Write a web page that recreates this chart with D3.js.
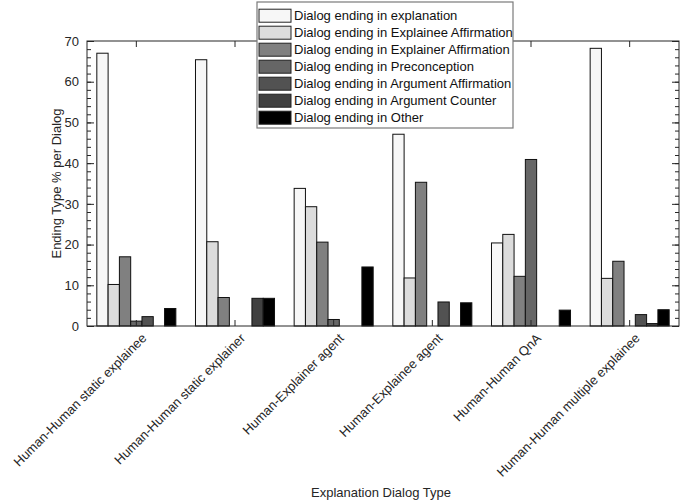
<!DOCTYPE html>
<html>
<head>
<meta charset="utf-8">
<script src="https://cdn.jsdelivr.net/npm/d3@7"></script>
<style>
  body { margin: 0; background: #fff; }
  svg { display: block; font-family: "Liberation Sans", Arial, Helvetica, sans-serif; }
</style>
</head>
<body>
<div id="chart"></div>
<script>
const categories = [
  "Human-Human static explainee",
  "Human-Human static explainer",
  "Human-Explainer agent",
  "Human-Explainee agent",
  "Human-Human QnA",
  "Human-Human multiple explainee",
];

const seriesNames = [
  "Dialog ending in explanation",
  "Dialog ending in Explainee Affirmation",
  "Dialog ending in Explainer Affirmation",
  "Dialog ending in Preconception",
  "Dialog ending in Argument Affirmation",
  "Dialog ending in Argument Counter",
  "Dialog ending in Other",
];

const explanation   = [67.0, 65.4, 33.8, 47.1, 20.4, 68.2];
const explaineeAff  = [10.2, 20.7, 29.3, 11.8, 22.5, 11.7];
const explainerAff  = [17.0, 7.0, 20.6, 35.3, 12.2, 15.9];
const preconception = [1.2, 0, 1.6, 0, 40.9, 0];
const argAff        = [2.3, 0, 0, 5.9, 0, 2.8];
const argCounter    = [0, 6.8, 0, 0, 0, 0.6];
const other         = [4.3, 6.8, 14.5, 5.7, 3.9, 4.0];

const yTicks = [0, 10, 20, 30, 40, 50, 60, 70];

const seriesValues = [explanation, explaineeAff, explainerAff, preconception, argAff, argCounter, other];
const colors = ["#f7f7f7", "#dcdcdc", "#808080", "#666666", "#525252", "#404040", "#000000"];

const W = 682, H = 504;
const plotLeft = 87, plotRight = 679, plotTop = 41, plotBottom = 326;
const axisColor = "#262626";

const svg = d3.select("#chart").append("svg")
  .attr("width", W)
  .attr("height", H);

const x = d3.scaleBand().domain(categories).range([plotLeft, plotRight]).padding(0);
const xInner = d3.scaleBand().domain(seriesNames).range([0, x.bandwidth()])
  .paddingInner(0).paddingOuter(0.87);
const y = d3.scaleLinear().domain([0, 70]).range([plotBottom, plotTop]);

// bars
const groups = svg.append("g").selectAll("g")
  .data(categories)
  .enter()
  .append("g")
  .attr("transform", d => `translate(${x(d)},0)`);

groups.selectAll("rect")
  .data((c, ci) => seriesNames.map((s, si) => ({ s, si, v: seriesValues[si][ci] })))
  .enter()
  .append("rect")
  .attr("x", d => xInner(d.s))
  .attr("y", d => y(d.v))
  .attr("width", xInner.bandwidth())
  .attr("height", d => y(0) - y(d.v))
  .attr("fill", d => colors[d.si])
  .attr("stroke", "#111")
  .attr("stroke-width", 1);

// axes
function styleAxis(g) {
  g.select(".domain").remove();
  g.selectAll("line").attr("stroke", axisColor);
  g.selectAll("text")
    .attr("fill", axisColor)
    .style("font-size", "13px")
    .style("font-family", "'Liberation Sans', Arial, sans-serif");
}

const minorTicks = d3.range(0, 71, 2);

svg.append("g")
  .attr("transform", `translate(${plotLeft},0)`)
  .call(d3.axisLeft(y).tickValues(minorTicks).tickSize(-4).tickFormat(""))
  .call(styleAxis);

svg.append("g")
  .attr("transform", `translate(${plotLeft},0)`)
  .call(d3.axisLeft(y).tickValues(yTicks).tickSize(-7).tickPadding(8))
  .call(styleAxis);

svg.append("g")
  .attr("transform", `translate(${plotRight},0)`)
  .call(d3.axisRight(y).tickValues(minorTicks).tickSize(-4).tickFormat(""))
  .call(styleAxis);

svg.append("g")
  .attr("transform", `translate(${plotRight},0)`)
  .call(d3.axisRight(y).tickValues(yTicks).tickSize(-7).tickFormat(""))
  .call(styleAxis);

svg.append("g")
  .attr("transform", `translate(0,${plotTop})`)
  .call(d3.axisBottom(x).tickSize(6).tickFormat(""))
  .call(styleAxis);

const xAxis = svg.append("g")
  .attr("transform", `translate(0,${plotBottom})`)
  .call(d3.axisBottom(x).tickSize(-6).tickPadding(0))
  .call(styleAxis);

xAxis.selectAll("text")
  .attr("text-anchor", "end")
  .attr("dy", null)
  .attr("y", null)
  .attr("transform", "translate(11,13) rotate(-45)");

// frame
svg.append("rect")
  .attr("x", plotLeft)
  .attr("y", plotTop)
  .attr("width", plotRight - plotLeft)
  .attr("height", plotBottom - plotTop)
  .attr("fill", "none")
  .attr("stroke", axisColor)
  .attr("stroke-width", 1);

// axis titles
svg.append("text")
  .attr("transform", `translate(61,${(plotTop + plotBottom) / 2}) rotate(-90)`)
  .attr("text-anchor", "middle")
  .attr("fill", axisColor)
  .style("font-size", "13px")
  .text("Ending Type % per Dialog");

svg.append("text")
  .attr("x", (plotLeft + plotRight) / 2 - 2)
  .attr("y", 497)
  .attr("text-anchor", "middle")
  .attr("fill", axisColor)
  .style("font-size", "13px")
  .text("Explanation Dialog Type");

// legend
const legend = svg.append("g").attr("transform", "translate(257,2)");

legend.append("rect")
  .attr("width", 256)
  .attr("height", 126)
  .attr("fill", "#fff")
  .attr("stroke", "#7a7a7a")
  .attr("stroke-width", 1.2);

const rows = legend.selectAll(".row")
  .data(seriesNames)
  .enter()
  .append("g")
  .attr("class", "row")
  .attr("transform", (d, i) => `translate(0,${13.7 + i * 17})`);

rows.append("rect")
  .attr("x", 2)
  .attr("y", -6.5)
  .attr("width", 32)
  .attr("height", 13)
  .attr("fill", (d, i) => colors[i])
  .attr("stroke", "#222")
  .attr("stroke-width", 1);

rows.append("text")
  .attr("x", 37)
  .attr("y", 4.5)
  .attr("fill", "#111")
  .style("font-size", "13px")
  .text(d => d);
</script>
</body>
</html>
